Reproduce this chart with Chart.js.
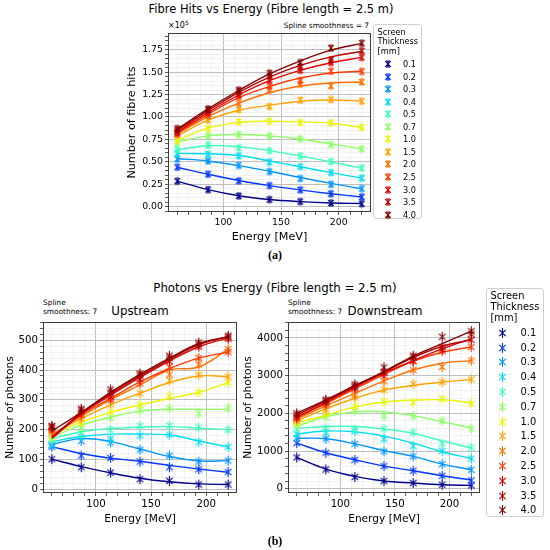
<!DOCTYPE html>
<html><head><meta charset="utf-8">
<script src="https://cdn.jsdelivr.net/npm/chart.js@4.4.1/dist/chart.umd.min.js"></script>
<style>
html,body{margin:0;padding:0;background:#fff}
body{position:relative;width:550px;height:550px;overflow:hidden;font-family:"DejaVu Sans",sans-serif;color:#000}
canvas{position:absolute}
.c{position:absolute;white-space:nowrap;line-height:1;transform:translate(-50%,-50%)}
.r{position:absolute;white-space:nowrap;line-height:1;transform:translate(-100%,-50%)}
.l{position:absolute;white-space:nowrap;line-height:1.2}
.leg{position:absolute;border:1px solid #cfcfcf;border-radius:3px;background:rgba(255,255,255,0.85);box-sizing:border-box}
.leg div{position:absolute;white-space:nowrap;line-height:1;transform:translateY(-50%)}
.leg img{position:absolute}
.cap{position:absolute;font-family:"Liberation Serif",serif;font-weight:bold;font-size:12px;line-height:1;transform:translate(-50%,-50%)}
</style></head><body>

<div class="c" style="left:271px;top:10px;font-size:11.5px">Fibre Hits vs Energy (Fibre length = 2.5 m)</div>
<div class="l" style="left:168px;top:21px;font-size:8px">×10<span style="position:relative;top:-3px;font-size:6px">5</span></div>
<div class="r" style="left:369px;top:26px;font-size:7.4px">Spline smoothness = 7</div>
<canvas id="cA" width="280" height="228" style="left:100px;top:20px;width:280px;height:228px"></canvas>
<div id="legA" class="leg" style="left:373px;top:24px;width:49px;height:195px"></div>
<div class="cap" style="left:275px;top:255px">(a)</div>

<div class="c" style="left:275px;top:289px;font-size:11.8px">Photons vs Energy (Fibre length = 2.5 m)</div>
<div class="l" style="left:43px;top:298px;font-size:7.4px;line-height:9px">Spline<br>smoothness: 7</div>
<div class="c" style="left:140px;top:312px;font-size:11.8px">Upstream</div>
<div class="l" style="left:288px;top:298px;font-size:7.4px;line-height:9px">Spline<br>smoothness: 7</div>
<div class="c" style="left:385px;top:312px;font-size:11.8px">Downstream</div>
<canvas id="cB1" width="242" height="230" style="left:0px;top:300px;width:242px;height:230px"></canvas>
<canvas id="cB2" width="250" height="230" style="left:236px;top:300px;width:250px;height:230px"></canvas>
<div id="legB" class="leg" style="left:486px;top:288px;width:58px;height:229px"></div>
<div class="cap" style="left:275px;top:541px">(b)</div>

<script>
// ---------------- data ----------------
const energy = [60, 86.7, 113.3, 140, 166.7, 193.3, 220];
const thickness = ['0.1','0.2','0.3','0.4','0.5','0.7','1.0','1.5','2.0','2.5','3.0','3.5','4.0'];

// Fibre hits (panel a), measured points
const hitsPts = [
  [28500, 19000, 12000, 8000, 5800, 4200, 3300],
  [44000, 36200, 28800, 23500, 18800, 14500, 10800],
  [53200, 51000, 46000, 39200, 31500, 25000, 20200],
  [59400, 58500, 56700, 49700, 44800, 38000, 31800],
  [63600, 68700, 65700, 62500, 56500, 50300, 43000],
  [71200, 78700, 80200, 79000, 75700, 69200, 64400],
  [73700, 87000, 94700, 95300, 94000, 93400, 88500],
  [80000, 96500, 108000, 111700, 118700, 119500, 117500],
  [81000, 101000, 115200, 130000, 136500, 134700, 139000],
  [82000, 103000, 123000, 134000, 140500, 151000, 150700],
  [83000, 105000, 125000, 141000, 152000, 160700, 166300],
  [85000, 107500, 128000, 145500, 155600, 163700, 173800],
  [87000, 109000, 130000, 148900, 160700, 176800, 182300]
];
// Fibre hits (panel a), spline curves read at the same energies
const hitsFit = [
  [28500, 19000, 12200, 8000, 5700, 4200, 3500],
  [44000, 36200, 29200, 23500, 18700, 14500, 10800],
  [53500, 51000, 45800, 39500, 32500, 26000, 20000],
  [59400, 59000, 57000, 51000, 44500, 38000, 31800],
  [63600, 68000, 66700, 62500, 56500, 50000, 43000],
  [72000, 79000, 80500, 79000, 75500, 70000, 64400],
  [74000, 87500, 94000, 95300, 94500, 93000, 88500],
  [79000, 96500, 107500, 113000, 117500, 119000, 117500],
  [81000, 100500, 115500, 127000, 134500, 138000, 139000],
  [82000, 103000, 121500, 134000, 143500, 149000, 151000],
  [83000, 105000, 124500, 140500, 152000, 160500, 166500],
  [85000, 107000, 127500, 144500, 157500, 167000, 173000],
  [86500, 109000, 129500, 148000, 162500, 174500, 182000]
];

// Photons upstream
const upPts = [
  [101, 74, 56, 34, 28, 16, 16],
  [143, 113, 105, 93, 74, 67, 58],
  [150, 162, 157, 133, 113, 93, 96],
  [148, 175, 168, 180, 183, 158, 142],
  [165, 190, 200, 212, 213, 207, 200],
  [172, 207, 240, 265, 272, 254, 272],
  [180, 222, 260, 283, 312, 325, 358],
  [188, 235, 285, 322, 365, 383, 378],
  [195, 245, 300, 385, 385, 418, 470],
  [200, 250, 305, 355, 410, 440, 460],
  [205, 258, 310, 370, 430, 478, 505],
  [210, 265, 325, 380, 440, 485, 510],
  [212, 270, 335, 388, 448, 492, 515]
];
const upFit = [
  [101, 76, 55, 37, 25, 18, 16],
  [143, 120, 104, 94, 80, 68, 57],
  [150, 170, 160, 135, 110, 95, 96],
  [160, 177, 185, 185, 182, 162, 142],
  [170, 193, 203, 209, 210, 205, 200],
  [175, 215, 242, 262, 268, 268, 268],
  [182, 225, 258, 283, 305, 325, 358],
  [185, 237, 283, 322, 358, 380, 378],
  [180, 245, 300, 350, 400, 410, 470],
  [175, 250, 305, 360, 405, 440, 460],
  [170, 252, 315, 375, 430, 478, 508],
  [175, 255, 320, 380, 435, 485, 512],
  [195, 258, 325, 385, 440, 488, 512]
];

// Photons downstream
const downPts = [
  [830, 510, 310, 203, 150, 106, 88],
  [1210, 954, 768, 600, 477, 344, 220],
  [1340, 1325, 1190, 990, 857, 653, 500],
  [1450, 1500, 1520, 1320, 1130, 1000, 800],
  [1600, 1600, 1570, 1590, 1490, 1200, 1090],
  [1680, 1900, 2060, 1930, 1930, 1800, 1600],
  [1750, 2000, 2180, 2310, 2290, 2380, 2260],
  [1800, 2100, 2420, 2620, 2780, 2830, 2900],
  [1850, 2200, 2480, 2850, 3150, 3230, 3400],
  [1880, 2260, 2650, 3000, 3380, 3650, 3760],
  [1900, 2290, 2690, 3070, 3400, 3700, 3950],
  [1950, 2330, 2720, 3100, 3480, 3760, 4100],
  [2000, 2360, 2770, 3220, 3530, 4030, 4180]
];
const downFit = [
  [830, 521, 327, 203, 150, 106, 88],
  [1210, 954, 768, 600, 477, 344, 230],
  [1340, 1325, 1190, 1015, 857, 653, 503],
  [1450, 1530, 1510, 1395, 1210, 980, 800],
  [1600, 1650, 1650, 1580, 1470, 1270, 1080],
  [1660, 1910, 2040, 2040, 1940, 1780, 1610],
  [1750, 1950, 2170, 2300, 2350, 2360, 2280],
  [1800, 2120, 2400, 2620, 2740, 2830, 2900],
  [1850, 2200, 2530, 2860, 3150, 3330, 3400],
  [1880, 2260, 2650, 3030, 3380, 3620, 3760],
  [1900, 2290, 2690, 3070, 3400, 3710, 3980],
  [1950, 2330, 2720, 3100, 3480, 3780, 3950],
  [2000, 2360, 2740, 3110, 3520, 3850, 4180]
];

// tick labels
const xMajor = [100, 150, 200];
const hitsMajor = [0, 25000, 50000, 75000, 100000, 125000, 150000, 175000];
const upMajor = [0, 100, 200, 300, 400, 500];
const downMajor = [0, 1000, 2000, 3000, 4000];

// ---------------- styles ----------------
const colors = ['#00008c','#0038ff','#0094ff','#00dcf0','#3cffbe','#8cff64','#e8f400','#ffa400','#ff7000','#ff3a00','#e00000','#b40000','#800000'];
const FONT = 'DejaVu Sans';
const MAJ = '#b8b8b8', MIN = '#e9e9e9';

function tickList(start, stop, step) {
  const out = [];
  for (let v = start; v <= stop + 1e-9; v += step) out.push(Math.round(v * 1000) / 1000);
  return out;
}

function makeMarker(color, armX, armY, caps, lw) {
  const w = Math.ceil(2 * armX + 4), h = Math.ceil(2 * armY + 4);
  const c = document.createElement('canvas');
  c.width = w; c.height = h;
  const g = c.getContext('2d');
  const cx = w / 2, cy = h / 2;
  g.strokeStyle = color; g.lineWidth = lw; g.lineCap = 'butt';
  g.beginPath();
  g.moveTo(cx - armX, cy - armX); g.lineTo(cx + armX, cy + armX);
  g.moveTo(cx - armX, cy + armX); g.lineTo(cx + armX, cy - armX);
  g.moveTo(cx, cy - armY); g.lineTo(cx, cy + armY);
  if (caps) {
    g.moveTo(cx - 2, cy - armY); g.lineTo(cx + 2, cy - armY);
    g.moveTo(cx - 2, cy + armY); g.lineTo(cx + 2, cy + armY);
  }
  g.stroke();
  return c;
}

const marksA = colors.map(c => makeMarker(c, 2.8, 3, true, 1.05));
const marksB = colors.map(c => makeMarker(c, 3.2, 5, false, 1.1));

function buildDatasets(fit, pts, marks) {
  const ds = [];
  thickness.forEach((t, i) => {
    ds.push({
      label: t + ' spline', data: energy.map((x, j) => ({x: x, y: fit[i][j]})),
      borderColor: colors[i], borderWidth: 1.4, pointRadius: 0, tension: 0.4,
      fill: false, order: 2 * (12 - i) + 1
    });
    ds.push({
      label: t, data: energy.map((x, j) => ({x: x, y: pts[i][j]})),
      showLine: false, pointStyle: marks[i], pointRadius: 4,
      borderColor: colors[i], backgroundColor: colors[i], order: 2 * (12 - i)
    });
  });
  return ds;
}

const framePlugin = {
  id: 'frame',
  afterDatasetsDraw(chart) {
    const {ctx, chartArea: a} = chart;
    ctx.save();
    ctx.strokeStyle = '#3c3c3c'; ctx.lineWidth = 1;
    ctx.strokeRect(Math.round(a.left) + 0.5, Math.round(a.top) + 0.5,
                   Math.round(a.right - a.left) - 1, Math.round(a.bottom - a.top) - 1);
    ctx.restore();
  }
};

function makeChart(id, fit, pts, marks, o) {
  const xTicks = tickList(60, 220, 10);
  return new Chart(document.getElementById(id), {
    type: 'line',
    data: {datasets: buildDatasets(fit, pts, marks)},
    options: {
      responsive: false, animation: false, events: [],
      layout: {padding: o.pad},
      plugins: {legend: {display: false}, tooltip: {enabled: false}, title: {display: false}},
      scales: {
        x: {
          type: 'linear', min: 52, max: 228,
          afterBuildTicks: a => { a.ticks = xTicks.map(v => ({value: v})); },
          afterFit: s => { s.height = o.xh; },
          border: {display: false},
          grid: {
            color: c => xMajor.includes(c.tick.value) ? MAJ : MIN,
            lineWidth: c => xMajor.includes(c.tick.value) ? 0.9 : 0.6,
            tickLength: 3, tickColor: '#333', tickWidth: 0.8
          },
          ticks: {
            autoSkip: false, maxRotation: 0, padding: 2, color: '#000',
            font: {family: FONT, size: o.tick},
            callback: v => xMajor.includes(v) ? String(v) : ''
          },
          title: {display: true, text: 'Energy [MeV]', color: '#000',
                  font: {family: FONT, size: o.tf}, padding: {top: 0, bottom: o.xtp}}
        },
        y: {
          type: 'linear', min: o.ymin, max: o.ymax,
          afterBuildTicks: a => { a.ticks = o.yTicks.map(v => ({value: v})); },
          afterFit: s => { s.width = o.yw; },
          border: {display: false},
          grid: {
            color: c => o.yMajor.includes(c.tick.value) ? MAJ : MIN,
            lineWidth: c => o.yMajor.includes(c.tick.value) ? 0.9 : 0.6,
            tickLength: 3, tickColor: '#333', tickWidth: 0.8
          },
          ticks: {
            autoSkip: false, padding: 2, color: '#000',
            font: {family: FONT, size: o.tick},
            callback: v => o.yMajor.includes(v) ? o.fmt(v) : ''
          },
          title: {display: true, text: o.ytitle, color: '#000',
                  font: {family: FONT, size: o.tf}, padding: {top: o.ytp, bottom: 0}}
        }
      }
    },
    plugins: [framePlugin]
  });
}

makeChart('cA', hitsFit, hitsPts, marksA, {
  pad: {left: 22, right: 9, top: 13, bottom: 0}, xh: 36, yw: 46,
  ymin: -5900, ymax: 193600, yTicks: tickList(-5000, 190000, 5000), yMajor: hitsMajor,
  fmt: v => (v / 100000).toFixed(2), ytitle: 'Number of fibre hits',
  tick: 9.4, tf: 11.2, xtp: 4.3, ytp: 3
});
makeChart('cB1', upFit, upPts, marksB, {
  pad: {left: 3, right: 5, top: 22, bottom: 0}, xh: 37, yw: 40,
  ymin: -12.5, ymax: 561, yTicks: tickList(0, 560, 20), yMajor: upMajor,
  fmt: v => String(v), ytitle: 'Number of photons',
  tick: 10.2, tf: 10.6, xtp: 4.6, ytp: 0.6
});
makeChart('cB2', downFit, downPts, marksB, {
  pad: {left: 4, right: 6, top: 22, bottom: 0}, xh: 37, yw: 48,
  ymin: -114, ymax: 4424, yTicks: tickList(0, 4400, 200), yMajor: downMajor,
  fmt: v => String(v), ytitle: 'Number of photons',
  tick: 10.2, tf: 10.6, xtp: 4.6, ytp: 1.6
});

// ---------------- legends ----------------
function buildLegend(id, marks, L) {
  const box = document.getElementById(id);
  L.titleLines.forEach((s, k) => {
    const d = document.createElement('div');
    d.textContent = s;
    d.style.left = L.tx + 'px'; d.style.top = (L.ty + k * L.tlh) + 'px';
    d.style.fontSize = L.fs + 'px';
    box.appendChild(d);
  });
  thickness.forEach((t, i) => {
    const y = L.iy + i * L.step;
    const img = document.createElement('img');
    img.src = marks[i].toDataURL();
    img.style.left = (L.mx - marks[i].width / 2) + 'px';
    img.style.top = (y - marks[i].height / 2) + 'px';
    box.appendChild(img);
    const d = document.createElement('div');
    d.textContent = t;
    d.style.left = L.lx + 'px'; d.style.top = y + 'px';
    d.style.fontSize = L.fs + 'px';
    box.appendChild(d);
  });
}
const legendTitle = ['Screen', 'Thickness', '[mm]'];
buildLegend('legA', marksA, {titleLines: legendTitle, tx: 3.5, ty: 6.5, tlh: 9.8, fs: 8.2,
  iy: 39, step: 12.55, mx: 14, lx: 29});
buildLegend('legB', marksB, {titleLines: legendTitle, tx: 3.5, ty: 6.5, tlh: 11.2, fs: 9.9,
  iy: 43.8, step: 14.8, mx: 15.8, lx: 33.5});
</script>
</body></html>
